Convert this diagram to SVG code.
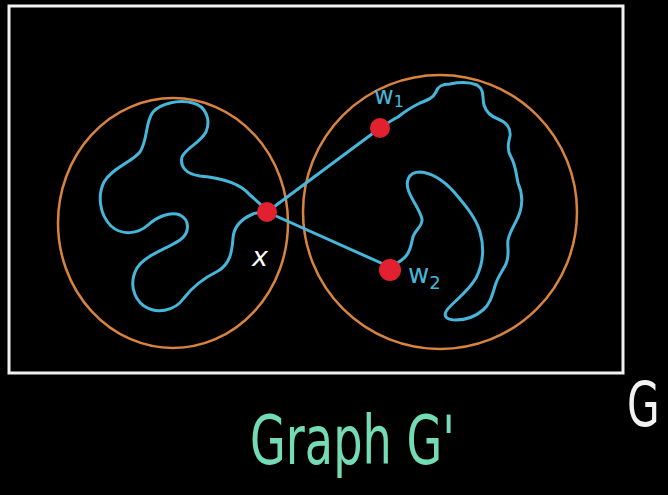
<svg xmlns="http://www.w3.org/2000/svg" width="668" height="495" viewBox="0 0 668 495">
<style>
.set{fill:none;stroke:#d9843e;stroke-width:2.5}
.curve{fill:none;stroke:#46b6da;stroke-width:3;stroke-linecap:round;stroke-linejoin:round}
.dot{fill:#e3202f}
.lbl{font-family:"DejaVu Sans","Liberation Sans",sans-serif}
</style>
<rect width="668" height="495" fill="#000"/>
<rect x="9" y="6" width="614" height="367" fill="none" stroke="#f2f2f2" stroke-width="3"/>
<g id="set-left"><ellipse class="set" cx="173" cy="223" rx="115" ry="125"/></g>
<g id="set-right"><ellipse class="set" cx="440" cy="212" rx="137" ry="137"/></g>
<g id="connectors">
<path class="curve" d="M267,212 C262,205 256,200 250,195 C240,183 222,178 200,176 C185,174 180,166 182,157 C186,148 200,143 206,132 C211,120 206,106 193,103 C178,99 160,104 153,112 C145,122 148,140 140,152 C132,162 112,168 104,182 C97,196 100,215 111,226 C122,236 138,234 148,225 C157,217 170,211 180,215 C190,220 190,233 180,240 C165,250 145,255 137,268 C129,282 133,298 144,306 C156,314 174,312 184,298 C193,286 204,278 218,271 C230,264 232,252 233,238 C234,226 241,219 253,214 C258,212 263,212 267,212"/>
<path class="curve" d="M267,212 L380,128"/>
<path class="curve" d="M267,212 L390,267"/>
<path class="curve" d="M380,128 C386,124 392,120 398,117 C404,112 410,108 420,103 C428,100 433,98 436,92 C438,86 442,84 450,84 C460,82 470,82 477,85 C485,90 482,98 484,105 C486,112 490,116 498,119 C506,122 511,128 510,136 C508,144 507,150 511,157 C516,166 516,174 518,183 C522,192 523,202 520,212 C517,222 510,230 508,240 C507,248 510,254 506,264 C502,272 498,276 495,286 C492,296 490,304 483,310 C476,316 466,320 456,320 C448,320 442,317 447,310 C452,303 468,292 476,278 C484,262 484,246 480,232 C476,218 466,206 454,192 C445,182 433,173 420,172 C408,172 405,182 409,192 C413,202 420,210 422,219 C423,226 415,230 413,237 C411,244 411,250 406,256 C401,262 395,264 390,267"/>
</g>
<g id="node-x"><circle class="dot" cx="267" cy="212" r="10"/><text class="lbl" x="260" y="266" font-size="27" font-style="italic" fill="#ffffff" text-anchor="middle">x</text></g>
<g id="node-w1"><circle class="dot" cx="380" cy="128" r="10"/><text class="lbl" x="374" y="104" font-size="24" fill="#46b6da">w<tspan font-size="16" dy="3">1</tspan></text></g>
<g id="node-w2"><circle class="dot" cx="390" cy="270" r="11"/><text class="lbl" x="408" y="283" font-size="26" fill="#46b6da">w<tspan font-size="18" dy="6">2</tspan></text></g>
<text class="lbl" x="250" y="464" font-size="68" fill="#74dcb4" textLength="205" lengthAdjust="spacingAndGlyphs">Graph G'</text>
<text class="lbl" transform="translate(627,426) scale(0.68,1)" x="0" y="0" font-size="62" fill="#f2f2f2">G</text>
</svg>
